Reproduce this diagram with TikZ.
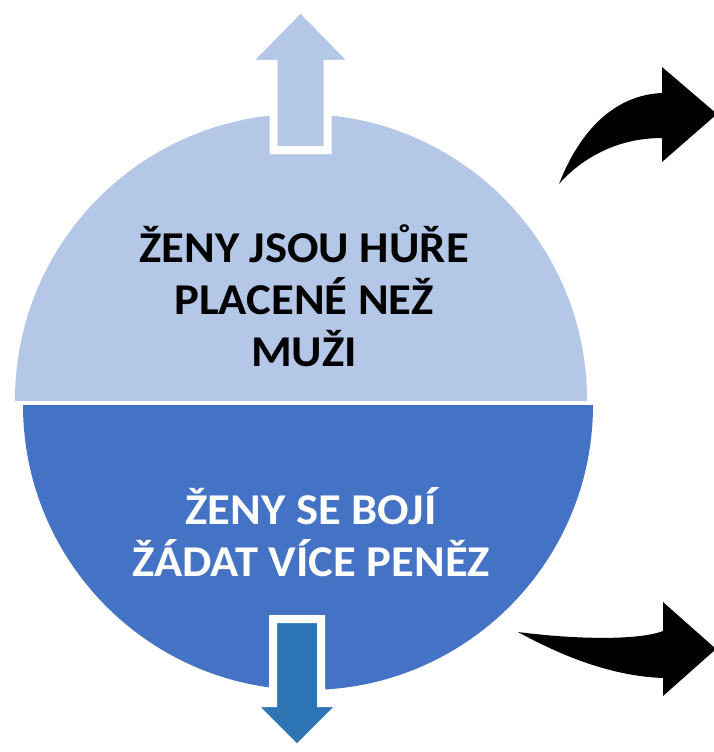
\documentclass[tikz,border=0pt]{standalone}
\usepackage{fontspec}
\setmainfont{Carlito}[FakeStretch=1.06]
\usetikzlibrary{shadows}
\definecolor{lightblue}{HTML}{B4C7E7}
\definecolor{darkblue}{HTML}{4472C4}
\definecolor{arrowblue}{HTML}{2E75B6}
\tikzset{
  blockarrow/.style={draw=white, line width=8pt, line join=miter,
    drop shadow={shadow xshift=2pt, shadow yshift=-2pt, opacity=.3}},
  curvearrow/.style={fill=black},
  halftext/.style={align=center, font=\bfseries\fontsize{44}{52}\selectfont}
}
\begin{document}
\begin{tikzpicture}[x=1pt, y=-1pt]
\useasboundingbox (0,0) rectangle (714,752);
\clip (0,0) rectangle (714,752);

\begin{scope}
\clip (0,0) rectangle (714,400);
\fill[lightblue] (301,400) circle[radius=286pt];
\end{scope}

\begin{scope}
\clip (0,405) rectangle (714,752);
\fill[darkblue] (308,405) circle[radius=285pt];
\end{scope}

\begin{scope}[shift = {(300.5,0)}]
\filldraw[blockarrow, fill=lightblue] (-27,150) -- (-27,64) -- (-55,64) -- (0,8) -- (55,64) -- (27,64) -- (27,150) -- cycle;
\end{scope}

\begin{scope}[shift = {(297,0)}]
\filldraw[blockarrow, fill=arrowblue] (-24,619) -- (24,619) -- (24,703) -- (46,703) -- (0,749) -- (-46,703) -- (-24,703) -- cycle;
\end{scope}

\node[halftext] (paid) at (304,296) {ŽENY JSOU HŮŘE\\PLACENÉ NEŽ\\MUŽI};
\node[halftext, text=white] (afraid) at (311,532) {ŽENY SE BOJÍ\\ŽÁDAT VÍCE PENĚZ};

\fill[curvearrow] (559,184) .. controls (580,130) and (615,95) .. (662,93) -- (662,67) -- (717,114) -- (662,162) -- (662,138) .. controls (615,138) and (580,160) .. (559,184) -- cycle;
\fill[curvearrow] (518,632) .. controls (580,640) and (640,640) .. (663,631) -- (663,602) -- (716,649) -- (663,696) -- (663,678) .. controls (610,676) and (560,655) .. (518,632) -- cycle;

\end{tikzpicture}
\end{document}
